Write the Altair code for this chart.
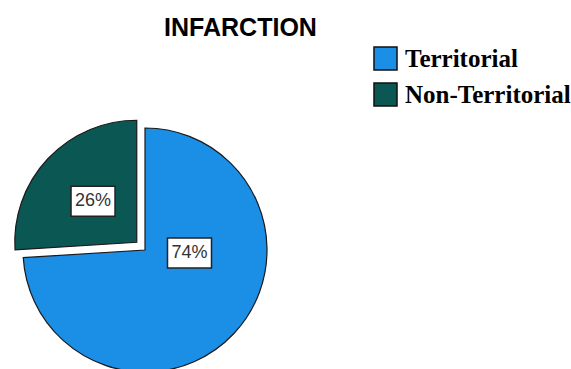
import altair as alt
import pandas as pd

# ---- data ----
categories = ["Territorial", "Non-Territorial"]
percents = [74, 26]
colors = ["#1b8ee6", "#0b5753"]
title_text = "INFARCTION"

df = pd.DataFrame({"category": categories, "percent": percents,
                   "order": list(range(len(categories)))})

# ---- layout / style constants ----
W, H = 571, 369
R = 122
X_DOM = [-145, W - 145]
Y_DOM = [-(H - 250), 250]
xs = alt.Scale(domain=X_DOM, nice=False, zero=False)
ys = alt.Scale(domain=Y_DOM, nice=False, zero=False)

color_enc = alt.Color(
    "category:N",
    scale=alt.Scale(domain=categories, range=colors),
    legend=alt.Legend(
        orient="none", legendX=373, legendY=46, title=None,
        symbolType="square", symbolSize=530,
        symbolStrokeColor="#111", symbolStrokeWidth=1.5,
        labelFont="Liberation Serif", labelFontWeight="bold",
        labelFontSize=25, labelColor="black", labelOffset=7,
        rowPadding=5, labelLimit=300,
    ),
)

base = (
    alt.Chart(df)
    .transform_window(cum="sum(percent)", sort=[alt.SortField("order")],
                      frame=[None, 0])
    .transform_joinaggregate(total="sum(percent)")
    .transform_calculate(
        a0="2*PI*(datum.cum-datum.percent)/datum.total",
        a1="2*PI*datum.cum/datum.total",
    )
    .transform_calculate(
        mid="(datum.a0+datum.a1)/2",
        label="format(datum.percent/datum.total, '.0%')",
    )
)


def slice_layers(cat, explode, label_r, theta_shift):
    b = base.transform_filter(alt.datum.category == cat).transform_calculate(
        cx=f"{explode}*sin(datum.mid)",
        cy=f"{explode}*cos(datum.mid)",
    ).transform_calculate(
        lx=f"datum.cx + {label_r}*sin(datum.mid + ({theta_shift}))",
        ly=f"datum.cy + {label_r}*cos(datum.mid + ({theta_shift}))",
    )
    arc = b.mark_arc(radius=R, stroke="#1a1a1a", strokeWidth=1.2).encode(
        theta=alt.Theta("a0:Q", scale=None, stack=False),
        theta2="a1:Q",
        x=alt.X("cx:Q", scale=xs, axis=None),
        y=alt.Y("cy:Q", scale=ys, axis=None),
        color=color_enc,
    )
    box = b.mark_rect(width=44, height=30, fill="white", stroke="#222",
                      strokeWidth=1.5).encode(
        x=alt.X("lx:Q", scale=xs, axis=None),
        y=alt.Y("ly:Q", scale=ys, axis=None),
    )
    txt = b.mark_text(font="Liberation Sans", fontSize=18, color="#333",
                      baseline="middle", align="center").encode(
        x=alt.X("lx:Q", scale=xs, axis=None),
        y=alt.Y("ly:Q", scale=ys, axis=None),
        text="label:N",
    )
    return [arc, box, txt]


layers = slice_layers("Territorial", 0, 44.6, -0.686) + \
    slice_layers("Non-Territorial", 11.3, 60, 0)

chart = (
    alt.layer(*layers)
    .properties(
        width=W, height=H, padding=0, autosize="none",
        title=alt.TitleParams(
            title_text, font="Liberation Sans", fontWeight="bold",
            fontSize=25, color="black", anchor="middle", frame="group",
            dx=-45, offset=0, baseline="alphabetic", dy=61,
        ),
    )
    .configure_view(stroke=None)
)

chart.save("out.html", embed_options={"renderer": "svg", "actions": False})
